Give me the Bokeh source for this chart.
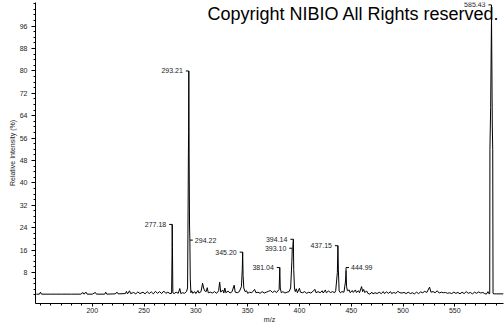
from bokeh.plotting import figure
from bokeh.models import FixedTicker, Range1d, Label
from bokeh.embed import file_html
from bokeh.resources import INLINE
from bokeh.core.properties import value

# ---- spectrum (m/z, relative intensity %) ----
mz = [146, 149, 150, 151, 160, 170, 180, 189, 191, 192, 194, 195, 200, 203, 204,
      212, 213, 214, 222, 224, 225, 232, 233, 234, 236, 237, 240, 242, 244, 246,
      249, 251, 253, 255, 257, 259, 261, 263, 265, 267, 269, 271, 273, 275,
      276.6, 277.0, 277.18, 277.4, 277.8, 279, 281, 283, 284.5, 285.5, 287, 289,
      291, 292.0, 292.5, 292.8, 293.0, 293.21, 293.5, 293.9, 294.22, 294.6, 295.2,
      296, 297, 299, 300, 302, 303, 305, 306.5, 307.5, 308.5, 310, 311, 312, 314,
      316, 318, 320, 322, 323, 324, 326, 327, 328, 329, 331, 333, 335, 337, 338,
      340, 342, 344, 344.8, 345.2, 345.6, 346.3, 347.5, 349, 350, 352, 354, 356.7,
      358, 360, 362, 364, 366, 368, 370, 372, 374, 376, 378, 380.4, 381.04, 381.5,
      382.5, 384, 386, 388, 390, 391.5, 392.7, 393.10, 393.6, 394.14, 394.5, 395.2,
      396, 397, 398, 400, 401, 403, 405, 407, 409, 411, 413, 415, 416, 418, 420,
      422, 423, 425, 426, 428, 430, 432, 434, 435, 436.6, 437.15, 437.6, 438.3,
      439.5, 441, 443, 444.5, 444.99, 445.5, 446.3, 448, 449, 451, 452, 454, 455,
      457, 458, 460, 461, 462, 463, 465, 466, 468, 470, 471, 473, 475, 477, 479,
      481, 482, 484, 486, 488, 489, 491, 493, 495, 497, 499, 501, 503, 505, 507,
      509, 511, 513, 515, 517, 519, 521, 523, 525.6, 527, 529, 531, 533, 535, 537,
      539, 541, 543, 545, 547, 549, 551, 553, 555, 557, 559, 561, 563, 565, 567,
      569, 571, 573, 575, 577, 579, 580.5, 582, 583, 583.7, 583.9, 584.6, 585.43,
      586.2, 586.6, 586.9, 588, 590, 597]
intensity = [0.3, 0.3, 1.0, 0.3, 0.3, 0.3, 0.3, 0.3, 0.9, 0.3, 1.0, 0.3, 0.3, 0.9, 0.3,
             0.3, 1.0, 0.3, 0.4, 1.0, 0.4, 0.5, 1.3, 0.4, 1.5, 0.5, 0.9, 0.4, 1.1, 0.5,
             1.0, 0.4, 1.2, 0.5, 1.1, 0.4, 1.3, 0.6, 1.2, 0.5, 1.4, 0.6, 1.0, 0.5,
             0.6, 14.0, 25.2, 17.0, 0.8, 0.5, 1.0, 0.6, 2.3, 0.5, 0.8, 0.6,
             1.2, 2.5, 30.0, 50.0, 58.0, 80.0, 50.0, 25.0, 19.6, 6.0, 0.8,
             1.5, 0.6, 1.2, 0.5, 1.6, 0.7, 1.2, 4.2, 2.5, 1.5, 1.2, 2.6, 0.8, 1.0,
             0.7, 1.2, 0.6, 1.5, 4.6, 1.0, 1.8, 0.7, 2.5, 0.8, 1.4, 0.7, 1.2, 3.5, 1.0,
             0.8, 1.2, 3.0, 9.0, 15.3, 7.0, 2.5, 1.2, 1.5, 0.6, 1.0, 0.8, 2.0,
             0.8, 1.0, 0.6, 1.2, 0.7, 1.0, 1.3, 1.6, 0.9, 1.4, 0.9, 2.0, 9.8, 2.5,
             0.8, 1.2, 0.7, 1.0, 1.2, 2.5, 12.0, 16.7, 17.0, 19.9, 9.0, 2.5,
             1.2, 2.2, 0.8, 2.4, 1.0, 0.8, 1.2, 0.6, 1.0, 0.7, 1.3, 2.0, 0.8, 1.2, 0.8,
             1.5, 0.7, 1.8, 0.8, 1.4, 0.9, 1.2, 0.8, 1.5, 8.0, 17.6, 9.0, 1.5,
             0.8, 1.2, 1.0, 5.0, 8.8, 3.0, 1.5, 1.8, 0.8, 1.6, 0.9, 1.8, 0.9,
             1.5, 0.8, 3.0, 1.2, 2.0, 0.9, 1.4, 0.6, 0.3, 1.0, 0.4, 0.8, 0.5, 1.0, 0.5,
             1.2, 0.5, 1.1, 0.6, 1.2, 0.5, 0.9, 0.6, 1.3, 0.8, 0.7, 0.9, 0.5, 1.0, 0.5,
             0.8, 0.4, 1.0, 0.5, 1.1, 0.8, 1.3, 0.9, 2.8, 1.0, 1.2, 0.8, 1.5, 0.7, 1.0,
             0.8, 0.9, 0.6, 0.8, 0.5, 1.0, 0.6, 0.9, 0.4, 1.0, 0.5, 1.2, 0.6, 0.9, 0.4,
             1.0, 0.6, 1.1, 0.7, 0.9, 0.5, 0.3, 1.2, 0.4, 0.5, 52.0, 67.0, 100.0,
             60.0, 52.0, 0.5, 0.4, 0.4, 0.4]

# ---- peak annotations ----
peak_labels = ["585.43", "293.21", "277.18", "294.22", "345.20", "381.04",
               "394.14", "393.10", "437.15", "444.99"]
peak_mz = [585.43, 293.21, 277.18, 294.22, 345.20, 381.04, 394.14, 393.10, 437.15, 444.99]
peak_top = [100.0, 80.0, 25.2, 19.6, 15.3, 9.8, 19.9, 16.7, 17.6, 8.8]
label_level = [103.6, 80.0, 25.2, 19.6, 15.3, 9.8, 19.9, 16.7, 17.6, 9.8]
label_side = ["left", "left", "left", "right", "left", "left", "left", "left", "left", "right"]

# ---- axes ----
x_major = [200, 250, 300, 350, 400, 450, 500, 550]
x_minor = list(range(150, 600, 10))
y_major = [8, 16, 24, 32, 40, 48, 56, 64, 72, 80, 88, 96]
y_minor = list(range(0, 106, 2))

X0, X1 = 145.2, 597.0
Y0, Y1 = -3.04, 104.46
W, H = 504, 325
ML, MR, MT, MB = 35, 1, 2, 22

FONT = "Liberation Sans"

p = figure(width=W, height=H, output_backend="svg", toolbar_location=None,
           x_range=Range1d(X0, X1), y_range=Range1d(Y0, Y1),
           min_border_left=ML, min_border_right=MR, min_border_top=MT,
           min_border_bottom=MB)
p.outline_line_color = None
p.grid.visible = False
p.background_fill_color = "white"
p.border_fill_color = "white"

p.xaxis.ticker = FixedTicker(ticks=x_major, minor_ticks=x_minor)
p.yaxis.ticker = FixedTicker(ticks=y_major, minor_ticks=y_minor)
for ax in (p.xaxis, p.yaxis):
    ax.axis_line_color = "black"
    ax.major_tick_line_color = "black"
    ax.minor_tick_line_color = "black"
    ax.major_tick_in = 0
    ax.minor_tick_in = 0
    ax.minor_tick_out = 2
    ax.major_label_text_font = FONT
    ax.major_label_text_font_size = "7px"
    ax.major_label_text_color = "#222222"
    ax.axis_label_text_font = FONT
    ax.axis_label_text_font_size = "7px"
    ax.axis_label_text_font_style = "normal"
    ax.axis_label_text_color = "#222222"
p.xaxis.axis_label = "m/z"
p.yaxis.axis_label = "Relative Intensity (%)"
p.xaxis.major_tick_out = 3
p.yaxis.major_tick_out = 4
p.xaxis.major_label_standoff = 1
p.xaxis.axis_label_standoff = 0
p.yaxis.major_label_standoff = 4
p.yaxis.axis_label_standoff = 1

# spectrum
p.line(mz, intensity, line_color="black", line_width=1)

# brackets and labels
frame_w = W - ML - MR
px = (X1 - X0) / frame_w
hx = 3 * px
sx0, sy0, sx1, sy1 = [], [], [], []
lx, ly, ltxt = [], [], []
rx, ry, rtxt = [], [], []
for lab, m, top, lev, side in zip(peak_labels, peak_mz, peak_top, label_level, label_side):
    if side == "left":
        sx0.append(m - hx); sy0.append(lev); sx1.append(m); sy1.append(lev)
        lx.append(m); ly.append(lev); ltxt.append(lab)
    else:
        sx0.append(m); sy0.append(lev); sx1.append(m + hx); sy1.append(lev)
        rx.append(m); ry.append(lev); rtxt.append(lab)
    if lev > top:
        sx0.append(m); sy0.append(lev); sx1.append(m); sy1.append(top)
p.segment(sx0, sy0, sx1, sy1, line_color="black", line_width=1)
p.text(lx, ly, text=ltxt, text_align="right", text_baseline="middle", x_offset=-6,
       text_font=value(FONT), text_font_size="7px", text_color="#222222")
p.text(rx, ry, text=rtxt, text_align="left", text_baseline="middle", x_offset=5,
       text_font=value(FONT), text_font_size="7px", text_color="#222222")

# copyright
copy_x = X0 + (207.0 - ML) * px
copy_y = Y1 - (13.0 - MT) * (Y1 - Y0) / (H - MT - MB)
p.add_layout(Label(x=copy_x, y=copy_y, text="Copyright NIBIO All Rights reserved.",
                   text_font=FONT, text_font_size="18px", text_color="black",
                   text_baseline="alphabetic", text_align="left"))

open("out.html", "w").write(file_html(p, INLINE))
